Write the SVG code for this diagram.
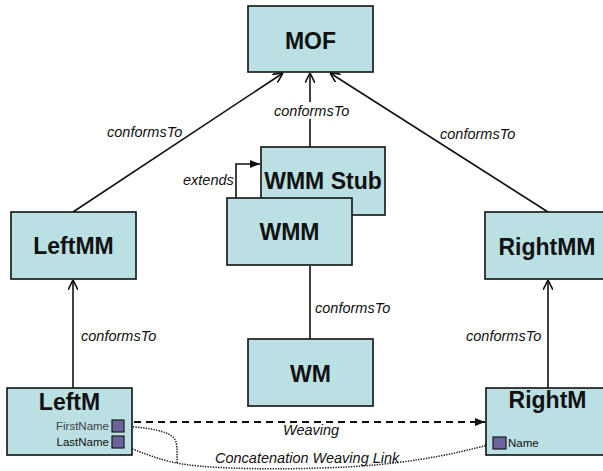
<svg xmlns="http://www.w3.org/2000/svg" width="603" height="471" viewBox="0 0 603 471">
  <style>
    .box { fill: #bbe0e3; stroke: #111; stroke-width: 1.6; }
    .title { font-family: "Liberation Sans", Arial, sans-serif; font-weight: bold; font-size: 23px; fill: #111; text-anchor: middle; }
    .lbl { font-family: "Liberation Sans", Arial, sans-serif; font-style: italic; font-size: 14.5px; fill: #111; }
    .attr { font-family: "Liberation Sans", Arial, sans-serif; font-size: 11.5px; fill: #111; }
    .port { fill: #6a659e; stroke: #1a1a1a; stroke-width: 1.2; }
    .conn { fill: none; stroke: #111; stroke-width: 1.6; }
    .dash { fill: none; stroke: #111; stroke-width: 2; stroke-dasharray: 7 5; }
    .dot { fill: none; stroke: #222; stroke-width: 1.5; stroke-dasharray: 1.4 1.2; }
  </style>
  <defs>
    <marker id="open" viewBox="0 0 10 10" refX="10" refY="5" markerWidth="10" markerHeight="10" markerUnits="userSpaceOnUse" orient="auto">
      <path d="M0,0 L10,5 L0,10" fill="none" stroke="#111" stroke-width="1.6"/>
    </marker>
    <marker id="solid" viewBox="0 0 10 10" refX="10" refY="5" markerWidth="10" markerHeight="10" markerUnits="userSpaceOnUse" orient="auto">
      <path d="M0,1 L10,5 L0,9 z" fill="#111"/>
    </marker>
    <marker id="small" viewBox="0 0 10 10" refX="10" refY="5" markerWidth="7" markerHeight="7" markerUnits="userSpaceOnUse" orient="auto">
      <path d="M0,1 L10,5 L0,9 z" fill="#222"/>
    </marker>
  </defs>

  <g id="connectors">
    <line class="conn" x1="73" y1="212" x2="283" y2="73" marker-end="url(#open)"/>
    <line class="conn" x1="310" y1="147" x2="310" y2="73" marker-end="url(#open)"/>
    <line class="conn" x1="548" y1="212" x2="330" y2="73" marker-end="url(#open)"/>
    <line class="conn" x1="73" y1="388" x2="73" y2="280" marker-end="url(#open)"/>
    <line class="conn" x1="548" y1="388" x2="548" y2="280" marker-end="url(#open)"/>
    <line class="conn" x1="310" y1="339" x2="310" y2="266"/>
    <path class="conn" d="M236,198 L236,164 L260,164" marker-end="url(#solid)"/>
    <line class="dash" x1="134" y1="422" x2="485" y2="422" marker-end="url(#solid)"/>
    <path class="dot" d="M125,426 C150,428 166,431 173,437 C178,442 177,450 177,463"/>
    <path class="dot" d="M125,446 C140,452 160,460 177,463 C200,468 260,470 320,468 C400,466 450,455 492,444" marker-end="url(#small)"/>
    <rect x="272" y="102" width="82" height="17" fill="#fff"/>
    <text class="lbl" x="107" y="137">conformsTo</text>
    <text class="lbl" x="274" y="116">conformsTo</text>
    <text class="lbl" x="440" y="139">conformsTo</text>
    <text class="lbl" x="183" y="185">extends</text>
    <text class="lbl" x="315" y="313">conformsTo</text>
    <text class="lbl" x="81" y="341">conformsTo</text>
    <text class="lbl" x="466" y="341">conformsTo</text>
    <text class="lbl" x="283" y="435">Weaving</text>
    <text class="lbl" x="215" y="463">Concatenation Weaving Link</text>
  </g>

  <g id="MOF">
    <rect class="box" x="248" y="6" width="125" height="66"/>
    <text class="title" x="310.5" y="49">MOF</text>
  </g>
  <g id="WMMStub">
    <rect class="box" x="261" y="147" width="124" height="68"/>
    <text class="title" x="323" y="189">WMM Stub</text>
  </g>
  <g id="WMM">
    <rect class="box" x="227" y="198" width="125" height="67"/>
    <text class="title" x="289.5" y="240">WMM</text>
  </g>
  <g id="LeftMM">
    <rect class="box" x="11" y="212" width="125" height="67"/>
    <text class="title" x="73.5" y="254">LeftMM</text>
  </g>
  <g id="RightMM">
    <rect class="box" x="485" y="212" width="125" height="67"/>
    <text class="title" x="547" y="255">RightMM</text>
  </g>
  <g id="WM">
    <rect class="box" x="248" y="339" width="125" height="67"/>
    <text class="title" x="310.5" y="382">WM</text>
  </g>
  <g id="LeftM">
    <rect class="box" x="7" y="388" width="125" height="67"/>
    <text class="title" x="69.5" y="410">LeftM</text>
    <text class="attr" x="109" y="430" text-anchor="end" style="fill:#444">FirstName</text>
    <rect class="port" x="112" y="420" width="12" height="12"/>
    <text class="attr" x="109" y="446" text-anchor="end">LastName</text>
    <rect class="port" x="112" y="436" width="12" height="12"/>
  </g>
  <g id="RightM">
    <rect class="box" x="486" y="388" width="125" height="67"/>
    <text class="title" x="547.5" y="408">RightM</text>
    <rect class="port" x="493" y="437" width="13" height="12"/>
    <text class="attr" x="508" y="447">Name</text>
  </g>
</svg>
